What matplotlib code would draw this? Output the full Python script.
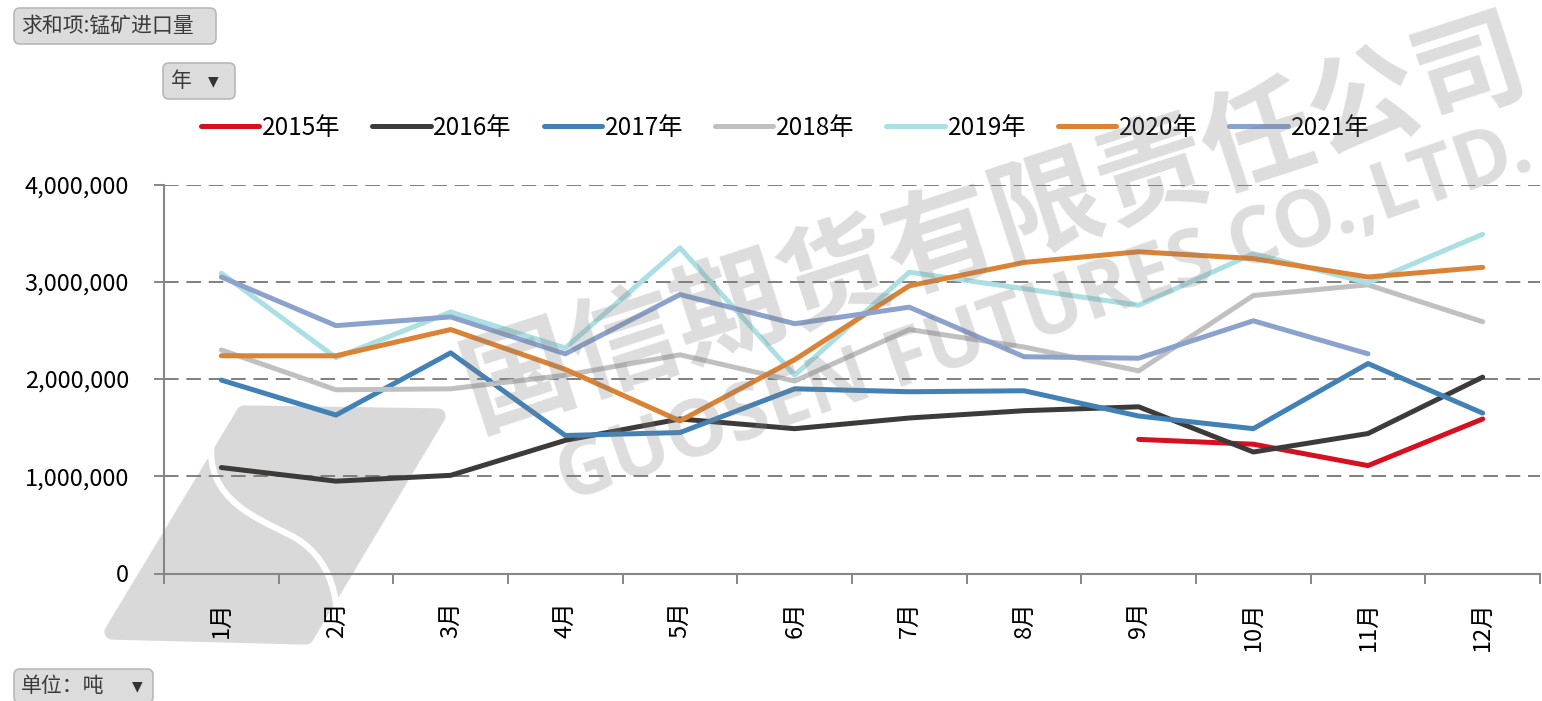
import numpy as np
import matplotlib
matplotlib.use('Agg')
import matplotlib.pyplot as plt
from matplotlib.patches import Polygon, FancyBboxPatch, PathPatch
from matplotlib.path import Path
from matplotlib.transforms import IdentityTransform

plt.rcParams['font.family'] = ['Noto Sans CJK SC', 'DejaVu Sans']

# data (tons)
months = ['1月', '2月', '3月', '4月', '5月', '6月', '7月', '8月', '9月', '10月', '11月', '12月']
years = ['2015年', '2016年', '2017年', '2018年', '2019年', '2020年', '2021年']
nan = np.nan
y2015 = [nan, nan, nan, nan, nan, nan, nan, nan, 1380000, 1330000, 1110000, 1590000]
y2016 = [1090000, 950000, 1010000, 1370000, 1590000, 1490000, 1600000, 1675000, 1715000, 1250000, 1440000, 2020000]
y2017 = [1990000, 1630000, 2270000, 1420000, 1450000, 1900000, 1870000, 1880000, 1620000, 1490000, 2160000, 1650000]
y2018 = [2300000, 1890000, 1900000, 2040000, 2250000, 1980000, 2510000, 2330000, 2085000, 2860000, 2970000, 2590000]
y2019 = [3090000, 2220000, 2690000, 2320000, 3350000, 2040000, 3100000, 2930000, 2760000, 3290000, 2990000, 3490000]
y2020 = [2240000, 2240000, 2510000, 2100000, 1570000, 2200000, 2960000, 3200000, 3310000, 3240000, 3050000, 3150000]
y2021 = [3050000, 2550000, 2640000, 2260000, 2870000, 2570000, 2740000, 2230000, 2215000, 2600000, 2260000, nan]
series = [y2015, y2016, y2017, y2018, y2019, y2020, y2021]
colors = ['#d7101f', '#3d3a3a', '#4281b6', '#c0c0c0', '#abdfe3', '#dc8234', '#8aa2cc']

W, H = 1542, 701
fig = plt.figure(figsize=(W / 100, H / 100), dpi=100)
fig.patch.set_facecolor('white')

def fx(x, y):
    return (x / W, 1 - y / H)

ax = fig.add_axes([164 / W, (H - 573.5) / H, (1540 - 164) / W, (573.5 - 184.7) / H])
ax.patch.set_visible(False)

# logo in the background (rounded parallelogram with a white S)
logo = Polygon([(112, H - 632), (244, H - 413), (438, H - 416), (306, H - 637)],
               closed=True, transform=IdentityTransform(), facecolor='#d9d9d9',
               edgecolor='#d9d9d9', lw=11, joinstyle='round', zorder=-2)
fig.patches.append(logo)
s_path = Path([(214, H - 428), (198, H - 495), (250, H - 515), (290, H - 535),
               (330, H - 555), (345, H - 600), (334, H - 660)],
              [Path.MOVETO, Path.CURVE4, Path.CURVE4, Path.CURVE4,
               Path.CURVE4, Path.CURVE4, Path.CURVE4])
fig.patches.append(PathPatch(s_path, transform=IdentityTransform(), facecolor='none',
                             edgecolor='white', lw=4.5, zorder=-1))

x = np.arange(len(months))
for lab, vals, c in zip(years, series, colors):
    ax.plot(x, vals, color=c, lw=3.6, label=lab, solid_capstyle='round',
            solid_joinstyle='round', zorder=3)

ax.set_xlim(-0.5, 11.5)
ax.set_ylim(0, 4000000)
ax.set_yticks([0, 1000000, 2000000, 3000000, 4000000])
ax.yaxis.set_major_formatter(matplotlib.ticker.FuncFormatter(lambda v, p: f'{int(v):,}'))
ax.yaxis.grid(True, color='#7f7f7f', lw=1.4, dashes=(7.5, 4))
ax.set_axisbelow(True)
ax.set_xticks(x)
ax.set_xticklabels(months, rotation=90, fontsize=17)
ax.set_xticks(np.arange(-0.5, 12, 1), minor=True)
ax.tick_params(axis='x', which='major', length=0, pad=20)
ax.tick_params(axis='x', which='minor', length=7.2, width=1.4, color='#868686')
ax.tick_params(axis='y', length=7.2, width=1.4, color='#868686', labelsize=17, pad=18)
for sp in ['top', 'right']:
    ax.spines[sp].set_visible(False)
for sp in ['left', 'bottom']:
    ax.spines[sp].set_color('#868686')
    ax.spines[sp].set_linewidth(1.5)

leg = ax.legend(loc='center', bbox_to_anchor=fx(785, 128), bbox_transform=fig.transFigure,
                ncol=7, frameon=False, fontsize=17.5, handlelength=2.4,
                handletextpad=0.12, columnspacing=1.3)

# pivot-chart buttons
def button(x0, y0, w, h, label, tx):
    fig.patches.append(FancyBboxPatch((x0, H - y0 - h), w, h,
                                      boxstyle='round,pad=0,rounding_size=6',
                                      transform=IdentityTransform(), facecolor='#dcdcdc',
                                      edgecolor='#b8b8b8', lw=1.2, zorder=5))
    fig.text(*fx(tx, y0 + h / 2), label, ha='left', va='center', fontsize=15,
             color='#3a3a3a', zorder=6)

button(14, 8, 202, 36, '求和项:锰矿进口量', 21)
button(163, 63, 72, 36, '年', 171)
fig.text(*fx(213, 81), '▼', ha='center', va='center', fontsize=10, color='#333333', zorder=6,
         family='DejaVu Sans')
button(14, 669, 139, 34, '单位：吨', 21)
fig.text(*fx(137, 686), '▼', ha='center', va='center', fontsize=10, color='#333333', zorder=6,
         family='DejaVu Sans')

# watermark
fig.text(*fx(995, 225), '国信期货有限责任公司', ha='center', va='center', rotation=18,
         rotation_mode='anchor', fontsize=80, fontweight='bold', color='#808080',
         alpha=0.27, zorder=10)
fig.text(*fx(1045, 315), 'GUOSEN FUTURES CO.,LTD.', ha='center', va='center', rotation=19,
         rotation_mode='anchor', fontsize=56, fontweight='bold', color='#808080',
         alpha=0.27, zorder=10, family='Open Sans')

fig.savefig('out.png', dpi=100)
